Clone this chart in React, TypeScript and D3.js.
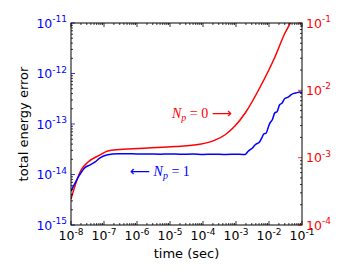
import React from 'react';
import { scaleLog, line, range, curveMonotoneX } from 'd3';

// exponents for tick labels
const timeExps = [-8, -7, -6, -5, -4, -3, -2, -1];
const leftExps = [-15, -14, -13, -12, -11];
const rightExps = [-4, -3, -2, -1];

// N_p = 1 (left axis)
const blueTime = [1e-8, 1.6e-8, 2.6e-8, 3.8e-8, 5.4e-8, 7.6e-8, 1.3e-7, 2.6e-7, 5e-7, 1e-6, 2e-6, 5e-6, 1e-5, 2e-5, 5e-5, 1e-4, 2e-4, 5e-4, 1e-3, 1.6e-3, 1.9e-3, 2.3e-3, 2.7e-3, 3.1e-3, 3.7e-3, 4.3e-3, 5e-3, 6.2e-3, 7e-3, 8.2e-3, 9.5e-3, 1.07e-2, 1.25e-2, 1.5e-2, 1.75e-2, 2.1e-2, 2.5e-2, 3e-2, 3.8e-2, 5e-2, 6.5e-2, 8.7e-2, 1e-1];
const blueErr = [4.7e-15, 8.5e-15, 1.35e-14, 1.55e-14, 1.78e-14, 2.14e-14, 2.45e-14, 2.57e-14, 2.58e-14, 2.55e-14, 2.56e-14, 2.53e-14, 2.55e-14, 2.52e-14, 2.54e-14, 2.5e-14, 2.53e-14, 2.49e-14, 2.52e-14, 2.5e-14, 2.5e-14, 2.85e-14, 3.1e-14, 3.3e-14, 3.8e-14, 4.1e-14, 4.3e-14, 5.5e-14, 6.4e-14, 6.6e-14, 8.6e-14, 1.05e-13, 1.2e-13, 1.66e-13, 1.75e-13, 2.4e-13, 2.6e-13, 3.2e-13, 3.4e-13, 3.9e-13, 4.1e-13, 4.3e-13, 4.2e-13];

// N_p = 0 (right axis)
const redTime = [1e-8, 2e-8, 3.3e-8, 7.6e-8, 1.3e-7, 3e-7, 2.1e-6, 1.4e-5, 8e-5, 2.3e-4, 4.7e-4, 9.3e-4, 1.9e-3, 5.4e-3, 1.5e-2, 3.05e-2, 4.4e-2, 6e-2];
const redErr = [2.43e-4, 6.5e-4, 8.6e-4, 1.1e-3, 1.26e-3, 1.32e-3, 1.39e-3, 1.46e-3, 1.58e-3, 1.82e-3, 2.19e-3, 2.95e-3, 4.6e-3, 1.12e-2, 3.1e-2, 7.1e-2, 1e-1, 1.45e-1];

const BLUE = '#0000ff';
const RED = '#ff0000';

const L = 71, R = 302, T = 23, B = 225;

const x = scaleLog().domain([1e-8, 1e-1]).range([L, R]);
const yL = scaleLog().domain([1e-15, 1e-11]).range([B, T]);
const yR = scaleLog().domain([1e-4, 1e-1]).range([B, T]);

function minors(lo: number, hi: number) {
  const out: number[] = [];
  range(lo, hi).forEach(e => {
    for (let k = 2; k <= 9; k++) out.push(k * Math.pow(10, e));
  });
  return out;
}

function Pow({ e, px, py, anchor, color }: { e: number; px: number; py: number; anchor: string; color: string }) {
  return (
    <text x={px} y={py} textAnchor={anchor} fill={color} fontSize={12.5} fontFamily="DejaVu Sans">
      10<tspan fontSize={9} dy={-5.5}>{'-' + Math.abs(e)}</tspan>
    </text>
  );
}

export default function App() {
  const blue = blueTime.map((t, i) => [t, blueErr[i]] as [number, number]);
  const red = redTime.map((t, i) => [t, redErr[i]] as [number, number]);
  const blueLine = line<[number, number]>().x(d => x(d[0])).y(d => yL(d[1])).curve(curveMonotoneX);
  const redLine = line<[number, number]>().x(d => x(d[0])).y(d => yR(d[1])).curve(curveMonotoneX);

  const xMinor = minors(-8, -1);
  const lMinor = minors(-15, -11);
  const rMinor = minors(-4, -1);

  return (
    <svg width={350} height={280} style={{ position: 'absolute', left: 0, top: 0 }}>
      <rect width={350} height={280} fill="#fff" />
      <defs>
        <clipPath id="plot">
          <rect x={L} y={T} width={R - L} height={B - T} />
        </clipPath>
      </defs>

      <g clipPath="url(#plot)" fill="none" strokeWidth={1.5} strokeLinejoin="round">
        <path d={redLine(red) || ''} stroke={RED} />
        <path d={blueLine(blue) || ''} stroke={BLUE} />
      </g>

      {/* x ticks, bottom and top */}
      <g stroke="#000" strokeWidth={0.8}>
        {timeExps.map(e => {
          const px = x(Math.pow(10, e));
          return <g key={'xt' + e}>
            <line x1={px} x2={px} y1={B} y2={B - 4} />
            <line x1={px} x2={px} y1={T} y2={T + 4} />
          </g>;
        })}
        {xMinor.map((v, i) => {
          const px = x(v);
          return <g key={'xm' + i}>
            <line x1={px} x2={px} y1={B} y2={B - 2} />
            <line x1={px} x2={px} y1={T} y2={T + 2} />
          </g>;
        })}
        {lMinor.map((v, i) => <line key={'lm' + i} x1={L} x2={L + 2} y1={yL(v)} y2={yL(v)} />)}
        {rMinor.map((v, i) => <line key={'rm' + i} x1={R} x2={R - 2} y1={yR(v)} y2={yR(v)} />)}
      </g>
      {leftExps.map(e => <line key={'lt' + e} x1={L} x2={L + 4} y1={yL(Math.pow(10, e))} y2={yL(Math.pow(10, e))} stroke={BLUE} strokeWidth={0.8} />)}
      {rightExps.map(e => <line key={'rt' + e} x1={R} x2={R - 4} y1={yR(Math.pow(10, e))} y2={yR(Math.pow(10, e))} stroke={RED} strokeWidth={0.8} />)}

      <rect x={L} y={T} width={R - L} height={B - T} fill="none" stroke="#000" strokeWidth={1} />

      {timeExps.map(e => <Pow key={'xl' + e} e={e} px={x(Math.pow(10, e))} py={240} anchor="middle" color="#000" />)}
      {leftExps.map(e => <Pow key={'ll' + e} e={e} px={67} py={yL(Math.pow(10, e)) + 4.5} anchor="end" color={BLUE} />)}
      {rightExps.map(e => <Pow key={'rl' + e} e={e} px={306} py={yR(Math.pow(10, e)) + 4.5} anchor="start" color={RED} />)}

      <text x={186.5} y={258} textAnchor="middle" fontSize={13} fontFamily="DejaVu Sans">time (sec)</text>
      <text transform="translate(28,124) rotate(-90)" textAnchor="middle" fontSize={13} fontFamily="DejaVu Sans">total energy error</text>

      <text x={172} y={117.5} fill={RED} fontSize={14} fontFamily="Liberation Serif">
        <tspan fontStyle="italic">N</tspan><tspan fontStyle="italic" fontSize={10} dy={3}>p</tspan><tspan dy={-3}>{' = 0 '}</tspan><tspan fontFamily="DejaVu Sans">⟶</tspan>
      </text>
      <text x={130} y={175.5} fill={BLUE} fontSize={14} fontFamily="Liberation Serif">
        <tspan fontFamily="DejaVu Sans">⟵</tspan><tspan fontStyle="italic">{' N'}</tspan><tspan fontStyle="italic" fontSize={10} dy={3}>p</tspan><tspan dy={-3}>{' = 1'}</tspan>
      </text>
    </svg>
  );
}
